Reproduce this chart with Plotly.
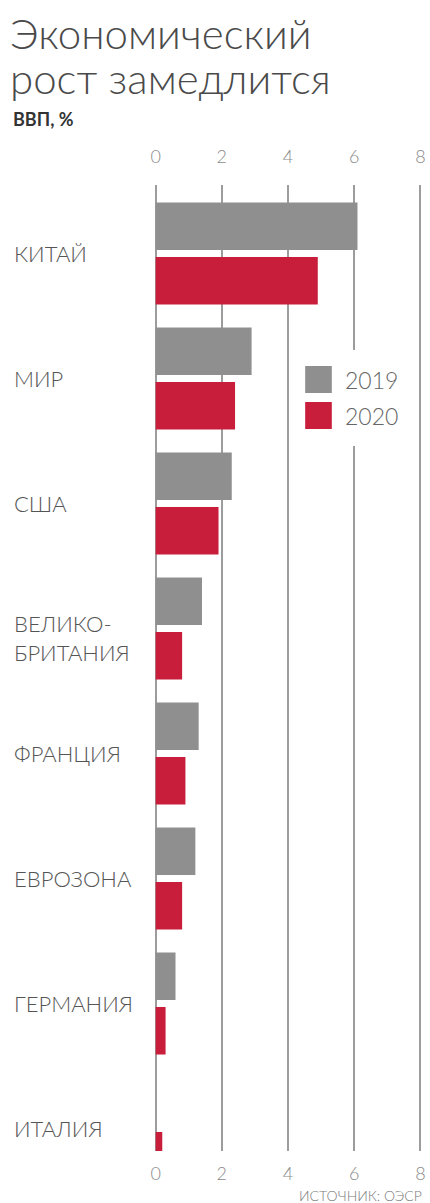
import plotly.graph_objects as go

# GDP growth, %, OECD
countries = ["КИТАЙ", "МИР", "США", "ВЕЛИКО-<br>БРИТАНИЯ", "ФРАНЦИЯ",
             "ЕВРОЗОНА", "ГЕРМАНИЯ", "ИТАЛИЯ"]
years = ["2019", "2020"]
gdp_2019 = [6.1, 2.9, 2.3, 1.4, 1.3, 1.2, 0.6, 0.0]
gdp_2020 = [4.9, 2.4, 1.9, 0.8, 0.9, 0.8, 0.3, 0.2]
tick_vals = [0, 2, 4, 6, 8]

W, H = 430, 1203
L, R, T, B = 153.8, 4.6, 185, 52

GRAY = "#8f8f8f"
RED = "#c81e3c"
GRID = "#9c9c9c"
FONT = "Lato"


def xp(px):
    return (px - L) / (W - L - R)


def yp(py):
    return (H - B - py) / (H - T - B)


fig = go.Figure()
for name, vals, color in [(years[0], gdp_2019, GRAY), (years[1], gdp_2020, RED)]:
    fig.add_trace(go.Bar(
        x=vals, y=countries, orientation="h", name=name,
        marker=dict(color=color, line=dict(width=0)),
        showlegend=False, hoverinfo="x+y",
    ))

# transparent carrier so the bottom scale gets drawn
fig.add_trace(go.Scatter(
    x=tick_vals, y=[countries[-1]] * len(tick_vals), xaxis="x2",
    mode="markers", marker=dict(opacity=0), showlegend=False, hoverinfo="skip",
))

axis_font = dict(family=FONT, size=18, color="#8a8a8a", weight=300)

fig.update_layout(
    width=W, height=H,
    margin=dict(l=L, r=R, t=T, b=B, pad=0),
    paper_bgcolor="white", plot_bgcolor="white",
    barmode="group", bargap=0.128, bargroupgap=0.128,
    xaxis=dict(
        range=[-0.05, 8.05], tickvals=tick_vals, side="top",
        showgrid=True, gridcolor=GRID, gridwidth=1.5,
        zeroline=True, zerolinecolor=GRID, zerolinewidth=1.5,
        showline=False, ticks="", tickfont=axis_font, ticklabelstandoff=17,
    ),
    xaxis2=dict(
        range=[-0.05, 8.05], tickvals=tick_vals, side="bottom",
        overlaying="x", anchor="y",
        showgrid=False, zeroline=False, showline=False, ticks="",
        tickfont=axis_font, ticklabelstandoff=10,
    ),
    yaxis=dict(
        categoryorder="array", categoryarray=countries,
        range=[7.18, -0.548], showticklabels=False, showgrid=False,
        zeroline=False, showline=False, ticks="",
    ),
)

annotations = [
    dict(text="Экономический", x=xp(6), y=yp(33), xanchor="left", yanchor="middle",
         font=dict(family=FONT, size=42, color="#4a4a4a", weight=300)),
    dict(text="рост замедлится", x=xp(6), y=yp(78), xanchor="left", yanchor="middle",
         font=dict(family=FONT, size=42, color="#4a4a4a", weight=300)),
    dict(text="ВВП, %", x=xp(9), y=yp(119), xanchor="left", yanchor="middle",
         font=dict(family=FONT, size=18, color="#333333", weight=700)),
    dict(text="ИСТОЧНИК: ОЭСР", x=xp(427), y=yp(1195), xanchor="right", yanchor="middle",
         font=dict(family=FONT, size=14, color="#7a7a7a", weight=300)),
]
for c in countries:
    annotations.append(dict(
        text=c, x=xp(10), y=c, yref="y", xanchor="left", yanchor="middle",
        align="left", yshift=-9 if "<br>" in c else 0,
        font=dict(family=FONT, size=22, color="#555555", weight=300),
    ))

# legend drawn as a white panel with square swatches
shapes = [dict(type="rect", xref="paper", yref="paper", layer="above",
               x0=xp(300), x1=xp(412), y0=yp(446), y1=yp(350),
               fillcolor="white", line=dict(width=0))]
for i, (name, color) in enumerate([(years[0], GRAY), (years[1], RED)]):
    top = 366 + i * 36
    shapes.append(dict(type="rect", xref="paper", yref="paper", layer="above",
                       x0=xp(307), x1=xp(334), y0=yp(top + 27), y1=yp(top),
                       fillcolor=color, line=dict(width=0)))
    annotations.append(dict(
        text=name, x=xp(345), y=yp(top + 13.5), xanchor="left", yanchor="middle",
        font=dict(family=FONT, size=23, color="#666666", weight=300),
    ))

for a in annotations:
    a.setdefault("xref", "paper")
    a.setdefault("yref", "paper")
    a["showarrow"] = False

fig.update_layout(annotations=annotations, shapes=shapes)
fig.write_html("out.html")
